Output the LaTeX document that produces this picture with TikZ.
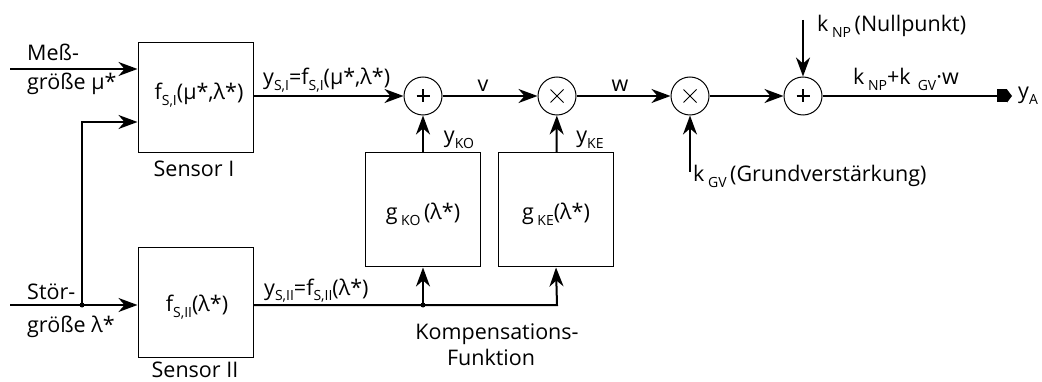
\documentclass[tikz,border=0pt]{standalone}
\usepackage{fontspec}
\setmainfont{Open Sans}
\usetikzlibrary{arrows.meta}
\newcommand{\lo}[1]{\raisebox{-0.24em}{\fontsize{14}{14}\selectfont #1}}
\begin{document}
\begin{tikzpicture}[x=1pt,y=-1pt,font=\fontsize{21.5}{24}\selectfont,
  sig/.style={line width=2pt},
  arr/.style={sig,-{Stealth[length=19pt,width=14pt,inset=6pt]}},
  blk/.style={draw,line width=1pt,minimum width=115pt,inner sep=0pt},
  op/.style={draw,circle,line width=1pt,minimum size=38pt,inner sep=0pt},
  dot/.style={circle,fill,inner sep=0pt,minimum size=5pt},
  lab/.style={inner sep=0pt}]
\useasboundingbox (0,0) rectangle (1042,382);
% blocks
\node[blk,minimum height=110pt] (s1) at (195.5,98) {};
\node[blk,minimum height=109pt] (s2) at (195.5,302.5) {};
\node[blk,minimum height=114pt] (ko) at (423,210) {};
\node[blk,minimum height=114pt] (ke) at (556,210) {};
\node[lab,anchor=base] at (199,100) {f\lo{S,I}(μ*,λ*)};
\node[lab,anchor=base] at (197,312) {f\lo{S,II}(λ*)};
\node[lab,anchor=base] at (423,220) {g\,\lo{KO}\,(λ*)};
\node[lab,anchor=base] at (556,220) {g\,\lo{KE}(λ*)};
% operators
\node[op] (sum1) at (423,96) {};
\node[op] (mul1) at (557,96) {};
\node[op] (mul2) at (690,96) {};
\node[op] (sum2) at (803,96) {};
\foreach \c in {sum1,sum2}
  \draw[line width=1.5pt] (\c.center) +(-6.5,0) -- +(6.5,0) (\c.center) +(0,-6.5) -- +(0,6.5);
\foreach \c in {mul1,mul2}
  \draw[line width=0.8pt] (\c.center) +(-6.5,-6.5) -- +(6.5,6.5) (\c.center) +(-6.5,6.5) -- +(6.5,-6.5);
% coordinates
\coordinate (m0) at (10,69);
\coordinate (st0) at (10,305);
\coordinate (i2) at (82,122);
\coordinate (d2) at (423,305);
\coordinate (b2) at (557,305);
\coordinate (np) at (803,20);
\coordinate (gv) at (690,172);
\coordinate (ya) at (1012,96);
\node[dot] (d1) at (82,305) {};
\node[dot] (d2n) at (d2) {};
% connectors
\draw[arr] (m0) -- (s1.west |- m0);
\draw[arr] (st0) -- (s2.west |- st0);
\draw[arr] (d1.center) |- (s1.west |- i2);
\draw[arr] (s1.east |- sum1) -- (sum1);
\draw[arr] (sum1) -- (mul1);
\draw[arr] (mul1) -- (mul2);
\draw[arr] (mul2) -- (sum2);
\draw[arr] (ko) -- (sum1);
\draw[arr] (ke) -- (mul1);
\draw[arr,line join=miter] (s2.east |- d2) -- (b2) -- (ke.south);
\draw[arr] (d2n.center) -- (ko.south);
\draw[arr] (np) -- (sum2);
\draw[arr] (gv) -- (mul2);
\draw[sig,-{Rectangle[length=10pt,width=13pt,sep=0pt]Triangle[length=5pt,width=13pt,sep=0pt]}] (sum2) -- (ya);
% labels
\node[lab,anchor=base west] at (27,61) {Meß-};
\node[lab,anchor=base west] at (27,90) {größe μ*};
\node[lab,anchor=base west] at (27,299) {Stör-};
\node[lab,anchor=base west] at (27,332) {größe λ*};
\node[lab,anchor=base] at (194,177) {Sensor I};
\node[lab,anchor=base] at (195,377) {Sensor II};
\node[lab,anchor=base west] at (263,85) {y\lo{S,I}=f\lo{S,I}(μ*,λ*)};
\node[lab,anchor=base west] at (264,295) {y\lo{S,II}=f\lo{S,II}(λ*)};
\node[lab,anchor=base] at (483,92) {v};
\node[lab,anchor=base] at (620,92) {w};
\node[lab,anchor=base] at (459,143) {y\lo{KO}};
\node[lab,anchor=base] at (590,143) {y\lo{KE}};
\node[lab,anchor=base west] at (817,32) {k\,\lo{NP}\,(Nullpunkt)};
\node[lab,anchor=base west] at (853,85) {k\,\lo{NP}+k\,\,\lo{GV}·w};
\node[lab,anchor=base west] at (693,182) {k\,\lo{GV}\,(Grundverstärkung)};
\node[lab,anchor=base] at (497,339) {Kompensations-};
\node[lab,anchor=base] at (491,365) {Funktion};
\node[lab,anchor=base west] at (1018,99) {y\lo{A}};
\end{tikzpicture}
\end{document}
